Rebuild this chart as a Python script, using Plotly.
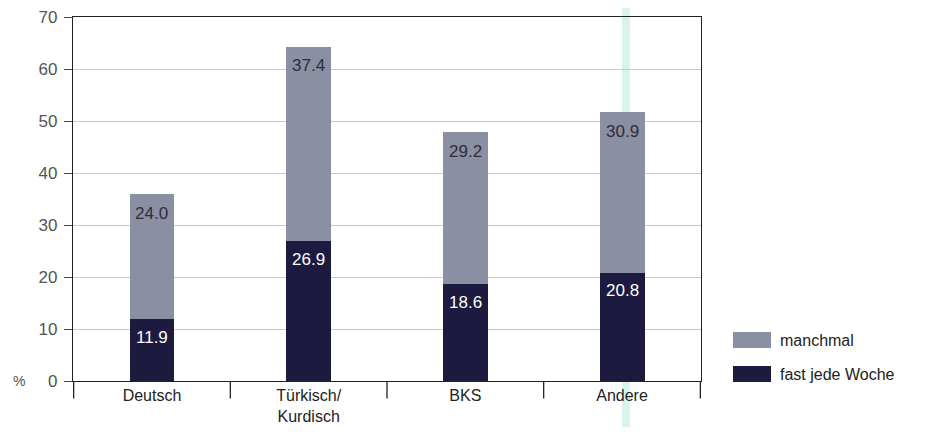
import plotly.graph_objects as go

categories = ["Deutsch", "Türkisch/<br>Kurdisch", "BKS", "Andere"]
fast_jede_woche = [11.9, 26.9, 18.6, 20.8]
manchmal = [24.0, 37.4, 29.2, 30.9]
series_names = ["manchmal", "fast jede Woche"]
y_ticks = [0, 10, 20, 30, 40, 50, 60, 70]

navy = "#1c1a3e"
gray = "#8b8fa3"

fig = go.Figure()
fig.add_trace(go.Bar(
    x=categories, y=fast_jede_woche, name=series_names[1],
    marker=dict(color=navy, line=dict(width=0)),
    textposition="none", showlegend=False,
))
fig.add_trace(go.Bar(
    x=categories, y=manchmal, name=series_names[0],
    marker=dict(color=gray, line=dict(width=0)),
    textposition="none", showlegend=False,
))

# value labels near the top of each segment
for i, cat in enumerate(categories):
    low = fast_jede_woche[i]
    top = fast_jede_woche[i] + manchmal[i]
    fig.add_annotation(x=cat, y=low, text=f"{fast_jede_woche[i]:.1f}",
                       showarrow=False, yanchor="middle", yshift=-18,
                       font=dict(color="white", size=17))
    fig.add_annotation(x=cat, y=top, text=f"{manchmal[i]:.1f}",
                       showarrow=False, yanchor="middle", yshift=-19,
                       font=dict(color="#2e2e38", size=17))

# page body adds an 8px offset, so the figure is sized to compensate
fig.update_layout(
    width=921, height=419,
    margin=dict(l=65, r=228, t=9, b=46),
    barmode="stack", bargap=0.713,
    plot_bgcolor="white", paper_bgcolor="white",
    font=dict(family="Liberation Sans", size=16, color="#333"),
    xaxis=dict(
        showline=True, linecolor="#222", linewidth=1.3, mirror=True,
        ticks="", showgrid=False, tickfont=dict(size=16, color="#222"),
        automargin=False, ticklabeloverflow="allow",
    ),
    yaxis=dict(
        range=[0, 70], tickvals=y_ticks, showline=True, linecolor="#222",
        linewidth=1.3, mirror=True, ticks="outside", ticklen=8,
        tickcolor="#444", showgrid=True, gridcolor="#c9cac0", gridwidth=1,
        tickfont=dict(size=17, color="#555"), zeroline=False,
        automargin=False, ticklabelstandoff=3, ticklabeloverflow="allow",
    ),
)

# category separator ticks below the x axis
for i in range(5):
    fig.add_shape(type="line", xref="x", yref="paper",
                  x0=-0.5 + i, x1=-0.5 + i, y0=0, y1=-0.048,
                  line=dict(color="#222", width=1.3))

# faint scan line
fig.add_shape(type="line", xref="paper", yref="paper",
              x0=0.8806, x1=0.8806, y0=-0.2, y1=1.1,
              line=dict(color="rgba(175,232,218,0.5)", width=8), layer="below")

# "%" label
fig.add_annotation(text="%", xref="paper", yref="y", x=(19 - 73) / 628, y=0,
                   showarrow=False, font=dict(size=14, color="#555"),
                   xanchor="center", yanchor="middle")

# manual legend
legend_items = [(series_names[0], gray, 340), (series_names[1], navy, 374)]
for name, col, ypix in legend_items:
    yp = (381 - ypix) / 364
    fig.add_shape(type="rect", xref="paper", yref="paper",
                  x0=(733 - 73) / 628, x1=(771 - 73) / 628,
                  y0=yp - 8 / 364, y1=yp + 8 / 364,
                  fillcolor=col, line=dict(width=0))
    fig.add_annotation(text=name, xref="paper", yref="paper",
                       x=(778 - 73) / 628, y=yp, showarrow=False,
                       xanchor="left", yanchor="middle",
                       font=dict(size=16, color="#222"))

fig.write_html("out.html")
